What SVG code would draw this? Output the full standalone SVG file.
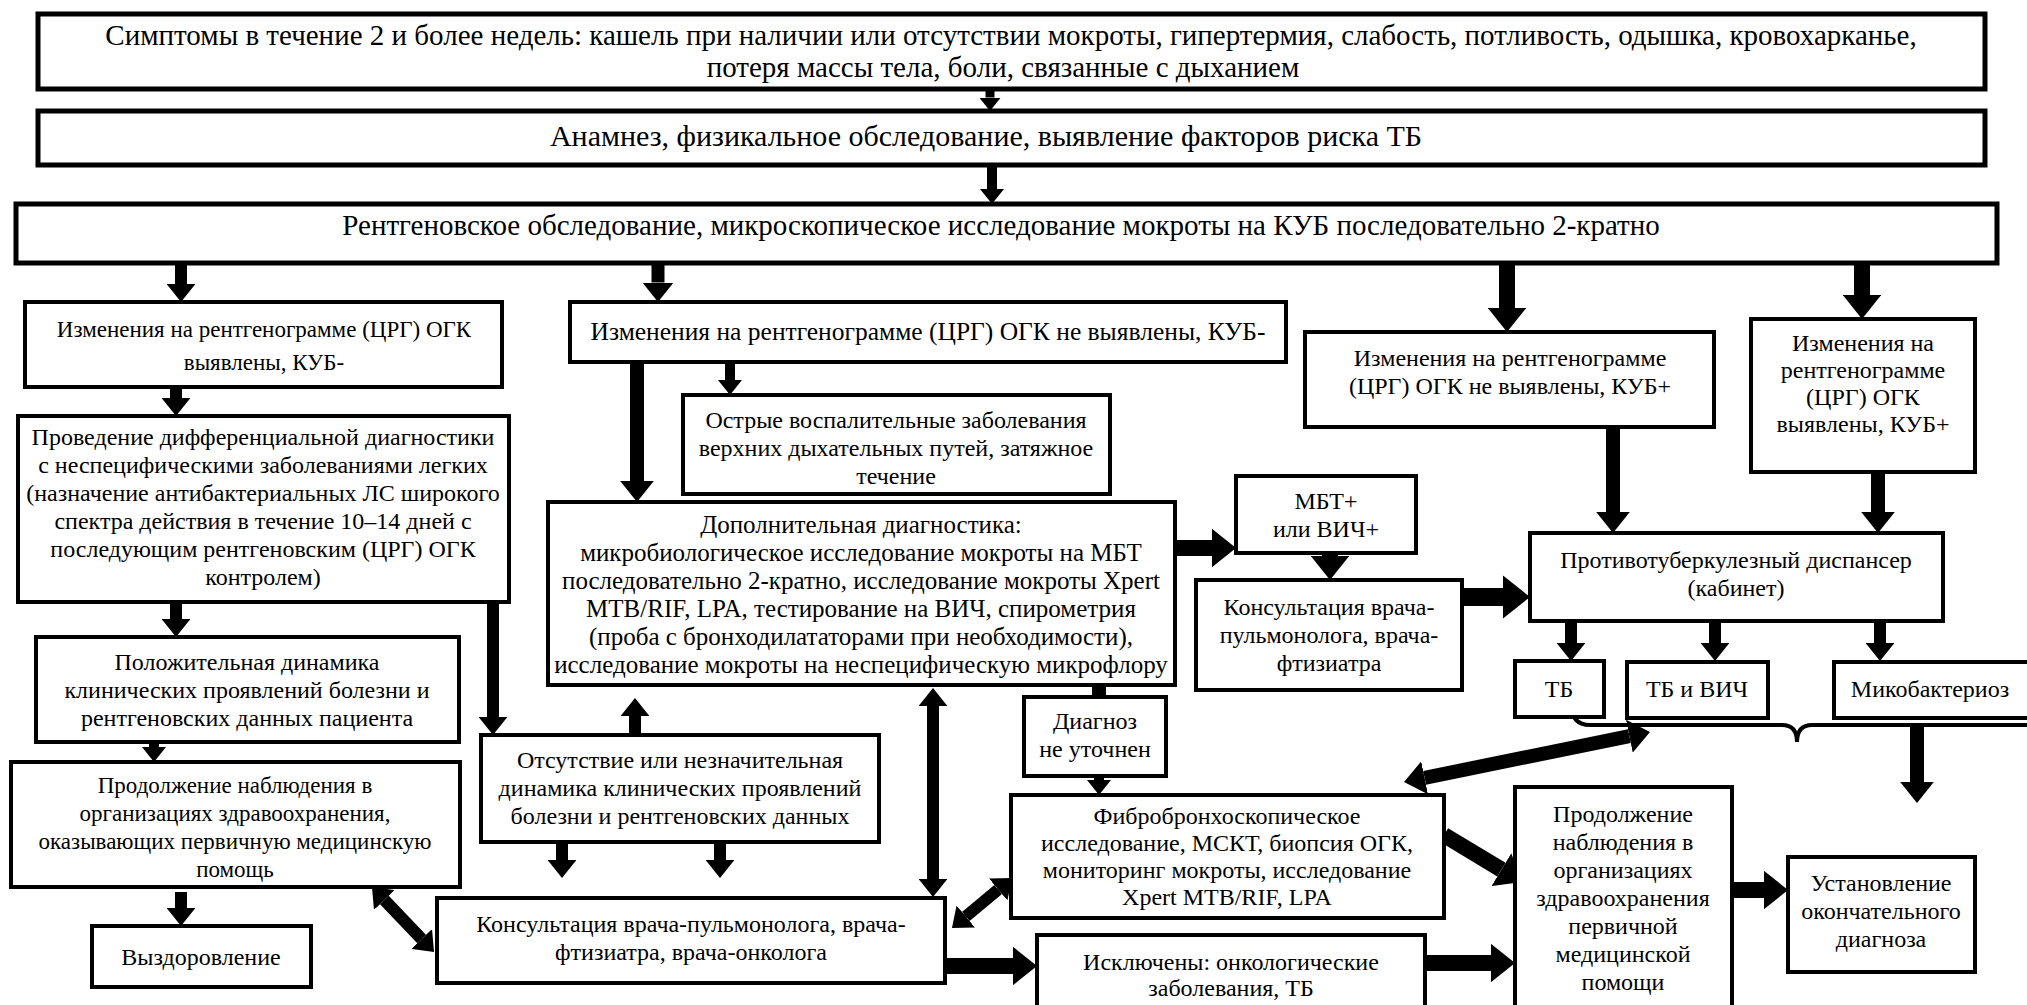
<svg xmlns="http://www.w3.org/2000/svg" width="2027" height="1005" viewBox="0 0 2027 1005">
<style>
.b{fill:#fff;stroke:#000;stroke-width:4}
.bt{fill:#fff;stroke:#000;stroke-width:5}
text{font-family:"Liberation Serif","Times New Roman",serif;font-size:24px;fill:#000;text-anchor:middle}
.s23 text{font-size:23px}
.s25 text{font-size:25px}
.s255 text{font-size:25.5px}
.big{font-size:29px}
.big2{font-size:30px}
.a{stroke:#000;fill:none;marker-end:url(#h)}
.d{stroke:#000;fill:none;marker-start:url(#h);marker-end:url(#h)}
</style>
<defs>
<marker id="h" viewBox="0 0 15 24" refX="0" refY="12" markerWidth="1.5" markerHeight="2.4" markerUnits="strokeWidth" orient="auto-start-reverse">
<path d="M0,0 L15,12 L0,24 z" fill="#000"/>
</marker>
</defs>
<rect width="2027" height="1005" fill="#fff"/>
<g id="connectors">
<line class="a" x1="990" y1="89" x2="990" y2="97.5" stroke-width="9"/>
<line class="a" x1="992" y1="165" x2="992" y2="189" stroke-width="10"/>
<line class="a" x1="181" y1="263" x2="181" y2="284" stroke-width="12"/>
<line class="a" x1="658" y1="263" x2="658" y2="282.5" stroke-width="13"/>
<line class="a" x1="1507" y1="263" x2="1507" y2="308" stroke-width="16"/>
<line class="a" x1="1862" y1="263" x2="1862" y2="295" stroke-width="16"/>
<line class="a" x1="176" y1="387" x2="176" y2="398" stroke-width="12"/>
<line class="a" x1="637" y1="362" x2="637" y2="481" stroke-width="14"/>
<line class="a" x1="730" y1="362" x2="730" y2="380" stroke-width="10"/>
<line class="a" x1="176" y1="602" x2="176" y2="619" stroke-width="12"/>
<line class="a" x1="493" y1="602" x2="493" y2="717" stroke-width="12"/>
<line class="a" x1="154" y1="742" x2="154" y2="747" stroke-width="10"/>
<line class="a" x1="181" y1="892" x2="181" y2="908" stroke-width="12"/>
<line class="a" x1="635" y1="735" x2="635" y2="716" stroke-width="12"/>
<line class="a" x1="562" y1="843" x2="562" y2="860" stroke-width="12"/>
<line class="a" x1="720" y1="843" x2="720" y2="860" stroke-width="12"/>
<line class="d" x1="933" y1="706" x2="933" y2="879" stroke-width="12"/>
<line class="d" x1="384.4" y1="900" x2="421.6" y2="939" stroke-width="12"/>
<line x1="1099" y1="685" x2="1099" y2="697" stroke="#000" stroke-width="14"/>
<line class="a" x1="1099" y1="776" x2="1099" y2="780" stroke-width="10"/>
<line class="d" x1="965.8" y1="916.5" x2="998.2" y2="889.5" stroke-width="12"/>
<line class="a" x1="945" y1="966" x2="1013" y2="966" stroke-width="16"/>
<line class="a" x1="1425" y1="963" x2="1491" y2="963" stroke-width="16"/>
<line class="a" x1="1444" y1="835" x2="1501.4" y2="869.6" stroke-width="16"/>
<line class="a" x1="1732" y1="890" x2="1764" y2="890" stroke-width="16"/>
<line class="d" x1="1424.6" y1="777.8" x2="1629.4" y2="736.2" stroke-width="14"/>
<line class="a" x1="1917" y1="727" x2="1917" y2="782" stroke-width="14"/>
<line class="a" x1="1175" y1="548" x2="1212" y2="548" stroke-width="16"/>
<line class="a" x1="1330" y1="553" x2="1330" y2="556" stroke-width="16"/>
<line class="a" x1="1462" y1="597" x2="1503" y2="597" stroke-width="18"/>
<line class="a" x1="1613" y1="427" x2="1613" y2="512" stroke-width="14"/>
<line class="a" x1="1878" y1="472" x2="1878" y2="512" stroke-width="14"/>
<line class="a" x1="1571" y1="621" x2="1571" y2="643" stroke-width="12"/>
<line class="a" x1="1715" y1="621" x2="1715" y2="643" stroke-width="12"/>
<line class="a" x1="1880" y1="621" x2="1880" y2="643" stroke-width="12"/>
<path d="M1571,703 Q1571,725 1590,725 L1782,725 Q1797,725 1797,742 Q1797,725 1812,725 L2027,725" fill="none" stroke="#000" stroke-width="4"/>
</g>
<g id="n1"><rect class="bt" x="38" y="14" width="1947" height="75"/>
<text class="big" x="1011" y="45">Симптомы в течение 2 и более недель: кашель при наличии или отсутствии мокроты, гипертермия, слабость, потливость, одышка, кровохарканье,</text>
<text class="big" x="1003" y="77">потеря массы тела, боли, связанные с дыханием</text></g>
<g id="n2"><rect class="bt" x="38" y="111" width="1947" height="54"/>
<text class="big2" x="986" y="146">Анамнез, физикальное обследование, выявление факторов риска ТБ</text></g>
<g id="n3"><rect class="bt" x="16" y="204" width="1981" height="59"/>
<text class="big" x="1001" y="235">Рентгеновское обследование, микроскопическое исследование мокроты на КУБ последовательно 2-кратно</text></g>
<g id="nA" class="s23"><rect class="b" x="25" y="302" width="477" height="85"/>
<text x="264" y="337">Изменения на рентгенограмме (ЦРГ) ОГК</text>
<text x="264" y="370">выявлены, КУБ-</text></g>
<g id="nB" class="s255"><rect class="b" x="570" y="302" width="716" height="60"/>
<text x="928" y="340">Изменения на рентгенограмме (ЦРГ) ОГК не выявлены, КУБ-</text></g>
<g id="nC"><rect class="b" x="1305" y="332" width="409" height="95"/>
<text x="1510" y="366">Изменения на рентгенограмме</text>
<text x="1510" y="394">(ЦРГ) ОГК не выявлены, КУБ+</text></g>
<g id="nD"><rect class="b" x="1751" y="319" width="224" height="153"/>
<text x="1863" y="351">Изменения на</text>
<text x="1863" y="378">рентгенограмме</text>
<text x="1863" y="405">(ЦРГ) ОГК</text>
<text x="1863" y="432">выявлены, КУБ+</text></g>
<g id="nE"><rect class="b" x="18" y="416" width="491" height="186"/>
<text x="263" y="445">Проведение дифференциальной диагностики</text>
<text x="263" y="473">с неспецифическими заболеваниями легких</text>
<text x="263" y="501">(назначение антибактериальных ЛС широкого</text>
<text x="263" y="529">спектра действия в течение 10–14 дней с</text>
<text x="263" y="557">последующим рентгеновским (ЦРГ) ОГК</text>
<text x="263" y="585">контролем)</text></g>
<g id="nF"><rect class="b" x="683" y="395" width="427" height="99"/>
<text x="896" y="428">Острые воспалительные заболевания</text>
<text x="896" y="456">верхних дыхательных путей, затяжное</text>
<text x="896" y="484">течение</text></g>
<g id="nG" class="s25"><rect class="b" x="548" y="502" width="627" height="183"/>
<text x="861" y="533">Дополнительная диагностика:</text>
<text x="861" y="561">микробиологическое исследование мокроты на МБТ</text>
<text x="861" y="589">последовательно 2-кратно, исследование мокроты Xpert</text>
<text x="861" y="617">MTB/RIF, LPA, тестирование на ВИЧ, спирометрия</text>
<text x="861" y="645">(проба с бронходилататорами при необходимости),</text>
<text x="861" y="673">исследование мокроты на неспецифическую микрофлору</text></g>
<g id="nH"><rect class="b" x="1236" y="476" width="180" height="77"/>
<text x="1326" y="509">МБТ+</text>
<text x="1326" y="537">или ВИЧ+</text></g>
<g id="nI"><rect class="b" x="1196" y="580" width="266" height="110"/>
<text x="1329" y="615">Консультация врача-</text>
<text x="1329" y="643">пульмонолога, врача-</text>
<text x="1329" y="671">фтизиатра</text></g>
<g id="nJ"><rect class="b" x="1530" y="533" width="413" height="88"/>
<text x="1736" y="568">Противотуберкулезный диспансер</text>
<text x="1736" y="596">(кабинет)</text></g>
<g id="nTB"><rect class="b" x="1515" y="661" width="89" height="56"/>
<text x="1559" y="697">ТБ</text></g>
<g id="nTBV"><rect class="b" x="1627" y="662" width="141" height="56"/>
<text x="1697" y="697">ТБ и ВИЧ</text></g>
<g id="nMyco"><rect class="b" x="1834" y="662" width="200" height="56"/>
<text x="1930" y="697">Микобактериоз</text></g>
<g id="nK"><rect class="b" x="36" y="637" width="423" height="105"/>
<text x="247" y="670">Положительная динамика</text>
<text x="247" y="698">клинических проявлений болезни и</text>
<text x="247" y="726">рентгеновских данных пациента</text></g>
<g id="nL" class="s23"><rect class="b" x="11" y="762" width="449" height="125"/>
<text x="235" y="793">Продолжение наблюдения в</text>
<text x="235" y="821">организациях здравоохранения,</text>
<text x="235" y="849">оказывающих первичную медицинскую</text>
<text x="235" y="877">помощь</text></g>
<g id="nVyzd"><rect class="b" x="92" y="926" width="219" height="61"/>
<text x="201" y="965">Выздоровление</text></g>
<g id="nM"><rect class="b" x="481" y="735" width="398" height="107"/>
<text x="680" y="768">Отсутствие или незначительная</text>
<text x="680" y="796">динамика клинических проявлений</text>
<text x="680" y="824">болезни и рентгеновских данных</text></g>
<g id="nN"><rect class="b" x="437" y="898" width="508" height="85"/>
<text x="691" y="932">Консультация врача-пульмонолога, врача-</text>
<text x="691" y="960">фтизиатра, врача-онколога</text></g>
<g id="nO"><rect class="b" x="1024" y="697" width="142" height="79"/>
<text x="1095" y="729">Диагноз</text>
<text x="1095" y="757">не уточнен</text></g>
<g id="nP"><rect class="b" x="1011" y="795" width="433" height="123"/>
<text x="1227" y="824">Фибробронхоскопическое</text>
<text x="1227" y="851">исследование, МСКТ, биопсия ОГК,</text>
<text x="1227" y="878">мониторинг мокроты, исследование</text>
<text x="1227" y="905">Xpert MTB/RIF, LPA</text></g>
<g id="nQ"><rect class="b" x="1037" y="935" width="388" height="80"/>
<text x="1231" y="970">Исключены: онкологические</text>
<text x="1231" y="996">заболевания, ТБ</text></g>
<g id="nR"><rect class="b" x="1515" y="787" width="217" height="230"/>
<text x="1623" y="822">Продолжение</text>
<text x="1623" y="850">наблюдения в</text>
<text x="1623" y="878">организациях</text>
<text x="1623" y="906">здравоохранения</text>
<text x="1623" y="934">первичной</text>
<text x="1623" y="962">медицинской</text>
<text x="1623" y="990">помощи</text></g>
<g id="nS"><rect class="b" x="1788" y="857" width="187" height="115"/>
<text x="1881" y="891">Установление</text>
<text x="1881" y="919">окончательного</text>
<text x="1881" y="947">диагноза</text></g>
</svg>
